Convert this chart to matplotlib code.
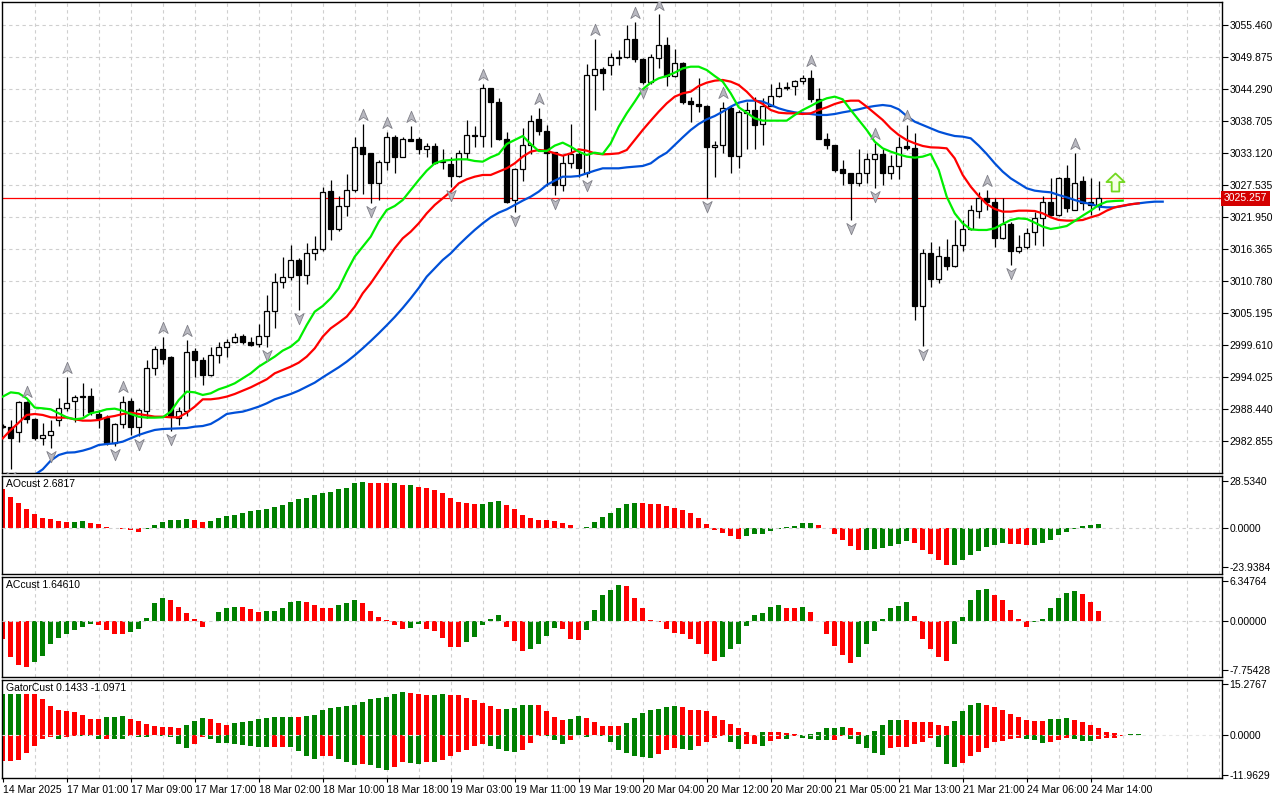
import numpy as np
import matplotlib.pyplot as plt
from matplotlib.path import Path
from matplotlib.transforms import offset_copy, blended_transform_factory

plt.rcParams['font.family'] = ['Liberation Sans Narrow', 'Liberation Sans', 'DejaVu Sans']

# ---- XAUUSD H1 candles ----
opens = [2985.6, 2985.4, 2984.4, 2989.7, 2986.7, 2983.4, 2983.9, 2986.6, 2988.7, 2989.8,
         2990.8, 2990.8, 2987.7, 2986.9, 2982.5, 2985.8, 2989.9, 2985.4, 2988.2, 2995.6,
         2998.9, 2997.6, 2987.0, 2988.2, 2998.6, 2997.0, 2994.4, 2997.9, 2999.3, 3000.1,
         3001.3, 3000.2, 2999.8, 3001.2, 3005.6, 3010.7, 3011.5, 3014.5, 3011.8, 3015.7,
         3016.4, 3026.5, 3019.9, 3024.0, 3026.7, 3034.3, 3033.1, 3027.9, 3031.6, 3036.0,
         3032.5, 3035.7, 3035.6, 3033.9, 3034.4, 3031.6, 3031.3, 3029.2, 3033.1, 3036.3,
         3036.2, 3044.5, 3042.0, 3035.6, 3025.0, 3030.3, 3034.5, 3039.1, 3037.1, 3033.3,
         3027.6, 3031.5, 3033.0, 3029.7, 3046.8, 3047.8, 3048.6, 3049.8, 3049.9, 3053.0,
         3049.5, 3045.5, 3049.7, 3052.1, 3046.6, 3048.9, 3042.3, 3041.8, 3041.4, 3034.2,
         3034.5, 3041.0, 3032.7, 3040.1, 3040.7, 3038.2, 3041.4, 3043.2, 3044.5, 3044.9,
         3045.8, 3046.2, 3042.6, 3035.7, 3034.5, 3030.3, 3029.6, 3027.9, 3029.6, 3032.1,
         3033.0, 3029.6, 3030.9, 3034.4, 3034.0, 3006.4, 3015.7, 3011.1, 3015.0, 3013.5,
         3017.2, 3019.9, 3023.1, 3025.4, 3024.6, 3018.3, 3020.8, 3016.0, 3016.7, 3019.3,
         3021.9, 3024.7, 3022.4, 3028.8, 3023.3, 3028.2, 3024.6, 3024.1]
highs = [2985.8, 2986.5, 2989.9, 2989.9, 2986.9, 2986.0, 2986.6, 2990.4, 2994.1, 2990.9,
         2993.0, 2992.1, 2988.4, 2987.4, 2986.1, 2990.8, 2990.4, 2988.6, 2997.0, 2999.4,
         3001.0, 2997.7, 2988.9, 3000.5, 2999.1, 2997.6, 2999.3, 3000.2, 3000.7, 3001.7,
         3001.6, 3001.1, 3003.4, 3008.4, 3012.2, 3015.1, 3017.1, 3014.8, 3017.4, 3018.7,
         3027.2, 3028.5, 3025.6, 3029.5, 3035.9, 3038.2, 3033.2, 3032.0, 3036.9, 3036.3,
         3036.0, 3037.9, 3036.0, 3034.9, 3034.9, 3033.8, 3032.5, 3033.7, 3038.9, 3037.9,
         3045.2, 3044.6, 3042.7, 3036.9, 3030.5, 3037.6, 3039.8, 3041.0, 3038.1, 3033.4,
         3032.8, 3038.2, 3033.4, 3048.7, 3053.0, 3048.2, 3050.6, 3051.2, 3055.5, 3056.1,
         3049.7, 3050.5, 3057.4, 3053.5, 3051.4, 3049.1, 3043.0, 3046.2, 3041.5, 3035.2,
         3042.1, 3041.3, 3040.7, 3042.1, 3043.0, 3042.7, 3045.3, 3045.6, 3045.6, 3046.0,
         3046.8, 3047.6, 3044.5, 3036.7, 3034.6, 3032.0, 3029.7, 3033.8, 3033.2, 3034.9,
         3033.8, 3032.8, 3036.0, 3038.1, 3036.6, 3016.5, 3017.7, 3016.9, 3018.1, 3021.5,
         3021.4, 3024.1, 3026.4, 3026.7, 3025.4, 3025.4, 3021.2, 3018.9, 3020.0, 3022.9,
         3025.6, 3028.8, 3028.9, 3031.1, 3033.1, 3029.2, 3028.8, 3028.2]
lows = [2985.2, 2978.1, 2982.8, 2986.0, 2983.1, 2982.2, 2981.6, 2985.5, 2988.2, 2986.3,
        2987.2, 2987.4, 2985.1, 2982.2, 2982.0, 2985.1, 2984.0, 2983.7, 2986.9, 2994.4,
        2996.3, 2984.7, 2985.7, 2987.2, 2994.1, 2992.7, 2994.3, 2996.6, 2997.5, 3000.0,
        2999.8, 2999.4, 2999.3, 2999.3, 3002.6, 3009.6, 3011.0, 3005.8, 3010.3, 3014.5,
        3016.1, 3018.0, 3019.5, 3022.2, 3026.4, 3026.1, 3024.5, 3024.9, 3030.2, 3029.7,
        3032.4, 3035.2, 3033.0, 3032.5, 3031.3, 3030.3, 3027.2, 3029.0, 3032.2, 3034.3,
        3034.3, 3034.3, 3035.4, 3024.5, 3022.8, 3028.2, 3033.0, 3036.3, 3027.4, 3025.8,
        3026.6, 3030.5, 3029.0, 3029.0, 3040.7, 3044.1, 3046.8, 3048.5, 3049.7, 3049.1,
        3045.3, 3045.2, 3048.0, 3044.8, 3046.5, 3041.8, 3038.6, 3040.4, 3025.3, 3029.0,
        3033.1, 3029.7, 3030.5, 3033.8, 3033.8, 3034.6, 3041.3, 3043.0, 3044.1, 3043.3,
        3045.3, 3042.1, 3035.6, 3033.8, 3029.9, 3027.6, 3021.5, 3027.4, 3028.0, 3027.0,
        3027.6, 3028.6, 3028.6, 3033.7, 3004.1, 2999.4, 3009.8, 3010.5, 3012.8, 3013.2,
        3016.0, 3019.7, 3021.9, 3023.2, 3016.8, 3018.1, 3013.6, 3015.8, 3016.4, 3017.1,
        3017.0, 3022.1, 3022.1, 3022.8, 3023.2, 3023.2, 3022.4, 3023.2]
closes = [2985.3, 2983.4, 2989.7, 2986.7, 2983.4, 2984.0, 2984.6, 2988.7, 2989.6, 2990.5,
          2990.5, 2988.0, 2986.9, 2982.5, 2985.8, 2989.7, 2985.4, 2988.3, 2995.6, 2998.9,
          2997.3, 2987.2, 2988.2, 2998.4, 2997.0, 2994.4, 2997.9, 2999.3, 3000.1, 3001.0,
          3000.1, 2999.6, 3001.3, 3005.6, 3010.7, 3011.5, 3014.5, 3011.8, 3015.7, 3016.5,
          3026.3, 3019.9, 3023.9, 3026.8, 3034.2, 3033.0, 3027.9, 3031.6, 3036.0, 3032.5,
          3035.7, 3035.3, 3033.8, 3034.4, 3031.5, 3031.7, 3029.2, 3033.1, 3036.3, 3036.1,
          3044.5, 3042.0, 3035.6, 3024.7, 3030.3, 3034.5, 3038.8, 3037.1, 3033.1, 3027.6,
          3031.5, 3033.0, 3030.5, 3046.8, 3047.8, 3047.2, 3049.9, 3049.9, 3053.0, 3049.5,
          3045.5, 3049.9, 3052.1, 3046.6, 3048.9, 3042.1, 3041.8, 3041.3, 3034.2, 3034.6,
          3041.0, 3032.7, 3040.3, 3040.7, 3038.1, 3041.4, 3043.2, 3044.5, 3044.6, 3045.7,
          3046.2, 3042.6, 3035.7, 3034.5, 3030.2, 3029.6, 3027.9, 3029.6, 3032.1, 3033.0,
          3029.6, 3030.9, 3034.3, 3034.0, 3006.4, 3015.7, 3011.1, 3015.2, 3013.5, 3017.2,
          3019.9, 3023.2, 3025.4, 3024.6, 3018.3, 3020.8, 3016.0, 3016.7, 3019.2, 3021.9,
          3024.7, 3022.4, 3028.8, 3023.5, 3028.0, 3024.5, 3024.1, 3025.257]

# ---- Alligator (lips / teeth from bar 0, jaw from bar 4) ----
lips = [2990.65, 2991.40, 2991.23, 2990.35, 2988.73, 2988.61, 2988.44, 2987.74, 2987.04, 2986.69,
        2986.86, 2987.74, 2988.03, 2988.44, 2988.55, 2988.20, 2987.62, 2987.15, 2986.98, 2986.98,
        2987.04, 2988.03, 2990.06, 2991.52, 2991.40, 2990.94, 2991.23, 2991.93, 2992.39, 2992.97,
        2993.85, 2994.72, 2995.88, 2996.75, 2997.63, 2998.68, 2999.37, 3000.54, 3003.15, 3005.48,
        3006.47, 3007.81, 3009.55, 3012.46, 3015.08, 3016.83, 3018.57, 3021.19, 3023.23, 3023.92,
        3024.97, 3026.72, 3028.46, 3030.09, 3031.37, 3031.84, 3031.95, 3032.07, 3032.07, 3031.78,
        3031.66, 3032.42, 3033.00, 3034.75, 3035.44, 3036.14, 3034.75, 3033.52, 3033.52, 3034.46,
        3034.98, 3034.28, 3033.41, 3032.83, 3033.23, 3033.00, 3034.86, 3037.77, 3040.10, 3042.14,
        3044.29, 3045.45, 3046.21, 3046.61, 3047.20, 3047.95, 3048.24, 3048.24, 3047.66, 3046.61,
        3045.63, 3043.59, 3041.15, 3040.21, 3039.23, 3038.82, 3038.82, 3038.82, 3038.82, 3039.81,
        3040.68, 3041.38, 3042.14, 3042.72, 3043.01, 3042.54, 3040.68, 3038.94, 3037.19, 3035.15,
        3033.99, 3033.41, 3032.94, 3032.54, 3032.36, 3032.54, 3033.00, 3030.21, 3025.55, 3022.64,
        3020.90, 3019.85, 3019.74, 3019.74, 3020.03, 3020.78, 3021.48, 3021.77, 3021.66, 3021.02,
        3020.32, 3019.91, 3020.14, 3020.43, 3021.31, 3022.24, 3023.11, 3024.10, 3024.68, 3024.80,
        3024.86]
teeth = [2983.37, 2984.83, 2986.11, 2987.45, 2987.62, 2987.45, 2987.04, 2986.98, 2986.98, 2986.69,
         2986.46, 2986.46, 2986.57, 2987.04, 2987.27, 2987.62, 2987.85, 2987.62, 2987.39, 2987.15,
         2987.15, 2987.04, 2987.04, 2987.85, 2988.90, 2990.18, 2990.18, 2990.35, 2990.65, 2991.11,
         2991.69, 2992.27, 2992.97, 2993.67, 2994.72, 2995.30, 2995.88, 2996.58, 2997.63, 2999.08,
         3001.12, 3002.57, 3003.56, 3004.61, 3006.35, 3008.68, 3010.43, 3012.46, 3014.50, 3016.54,
         3018.28, 3019.44, 3020.90, 3022.64, 3024.10, 3025.26, 3026.43, 3027.88, 3028.58, 3029.04,
         3029.34, 3029.34, 3029.92, 3030.50, 3031.37, 3032.54, 3033.41, 3033.70, 3033.58, 3033.12,
         3032.71, 3033.12, 3033.82, 3033.58, 3033.12, 3032.94, 3033.00, 3033.12, 3033.70, 3035.44,
         3037.19, 3038.82, 3040.39, 3041.84, 3043.01, 3043.59, 3043.88, 3044.87, 3045.45, 3045.80,
         3045.92, 3045.63, 3045.04, 3043.88, 3042.43, 3041.73, 3040.68, 3040.21, 3040.10, 3040.10,
         3039.98, 3040.10, 3040.68, 3041.15, 3041.73, 3042.14, 3042.31, 3042.31, 3041.26, 3040.10,
         3038.94, 3037.48, 3036.32, 3035.44, 3034.86, 3034.40, 3034.16, 3034.11, 3033.99, 3032.24,
         3029.34, 3027.30, 3025.67, 3024.27, 3023.40, 3022.94, 3022.94, 3023.11, 3023.11, 3023.05,
         3022.64, 3021.95, 3021.48, 3021.37, 3021.37, 3021.48, 3021.95, 3022.35, 3023.11, 3023.69,
         3023.98, 3024.22, 3024.39]
jaw_start = 4
jaw = [2977.00, 2977.96, 2979.48, 2980.46, 2980.87, 2980.93, 2981.22, 2981.63, 2982.21, 2982.38,
       2982.50, 2982.79, 2983.37, 2983.96, 2984.42, 2984.83, 2985.00, 2985.06, 2985.12, 2985.17,
       2985.41, 2985.52, 2985.88, 2986.69, 2987.62, 2987.85, 2988.03, 2988.44, 2988.90, 2989.48,
       2990.18, 2990.65, 2991.11, 2991.69, 2992.39, 2993.09, 2994.02, 2994.89, 2995.77, 2996.75,
       2997.86, 2999.08, 3000.36, 3001.70, 3003.10, 3004.55, 3006.12, 3007.81, 3009.61, 3011.59,
       3013.05, 3014.50, 3015.66, 3017.12, 3018.46, 3019.74, 3020.90, 3021.95, 3022.76, 3023.34,
       3024.10, 3024.86, 3025.55, 3026.43, 3027.59, 3028.35, 3029.04, 3029.04, 3029.16, 3029.63,
       3030.09, 3030.50, 3030.50, 3030.50, 3030.67, 3030.79, 3030.91, 3031.37, 3032.42, 3033.23,
       3034.57, 3035.91, 3037.19, 3038.24, 3039.05, 3039.63, 3040.39, 3041.26, 3041.96, 3042.31,
       3042.31, 3042.14, 3041.55, 3040.97, 3040.56, 3040.27, 3040.10, 3039.98, 3039.81, 3039.81,
       3039.98, 3040.27, 3040.51, 3040.80, 3041.15, 3041.38, 3041.55, 3041.38, 3040.80, 3039.63,
       3038.64, 3038.06, 3037.48, 3036.90, 3036.49, 3036.14, 3036.03, 3035.74, 3034.46, 3033.00,
       3031.37, 3029.92, 3028.75, 3027.88, 3027.01, 3026.60, 3026.43, 3026.31, 3025.84, 3025.44,
       3024.97, 3024.56, 3024.27, 3023.81, 3023.69, 3023.69, 3023.92, 3024.22, 3024.39, 3024.56,
       3024.68, 3024.68]

# ---- fractals and signal ----
fractal_up = [3, 8, 15, 20, 23, 45, 48, 51, 60, 67, 74, 79, 82, 90, 101, 109, 113, 123, 134]
fractal_down = [1, 6, 14, 17, 21, 33, 37, 46, 56, 64, 69, 73, 80, 88, 106, 109, 115, 126]
signal_bar = 139
signal_price = 3028.1
bid_price = 3025.257

# ---- oscillators ----
ao = [23.6, 19.1, 15.4, 11.7, 8.6, 6.2, 5.5, 4.3, 3.7, 3.9,
      4.1, 3.1, 2.5, 0.6, 0.2, -0.4, -1.4, -2.3, -0.6, 1.8,
      3.7, 4.7, 5.1, 5.5, 4.9, 3.9, 4.1, 6.2, 7.6, 8.2,
      9.2, 10.5, 10.7, 11.7, 12.5, 13.7, 16.0, 17.4, 18.5, 19.9,
      21.1, 21.9, 23.6, 24.6, 27.1, 27.7, 27.5, 27.3, 27.1, 27.5,
      26.2, 26.4, 25.2, 24.6, 23.0, 21.1, 18.5, 15.6, 15.4, 14.4,
      14.8, 16.0, 16.2, 14.1, 11.3, 8.2, 6.2, 4.9, 4.7, 4.5,
      3.1, 1.8, -0.2, 0.8, 3.7, 6.8, 9.2, 12.3, 14.8, 15.4,
      15.2, 14.8, 14.6, 13.5, 11.9, 10.7, 9.2, 6.2, 2.5, -1.0,
      -3.1, -4.7, -6.8, -4.7, -3.9, -3.7, -1.6, -0.4, 0.4, 1.0,
      2.9, 3.1, 2.1, -0.1, -3.7, -7.2, -10.9, -13.3, -13.1, -12.7,
      -12.3, -10.7, -9.8, -7.8, -8.8, -13.3, -16.0, -19.1, -22.6, -22.3,
      -19.1, -16.4, -13.7, -11.3, -10.3, -9.2, -9.4, -9.6, -10.3, -10.0,
      -8.8, -7.2, -4.5, -2.5, -0.6, 1.4, 2.0, 2.68]
ac = [-2.9, -5.7, -7.0, -7.3, -6.5, -5.5, -3.6, -2.7, -2.0, -1.5,
      -0.9, -0.4, -0.7, -1.5, -2.0, -2.1, -1.7, -1.2, 0.5, 2.8,
      3.7, 3.3, 2.3, 1.2, 0.3, -0.9, 0.05, 1.5, 2.0, 2.3,
      2.2, 1.9, 1.5, 1.55, 1.6, 2.1, 3.1, 3.15, 3.1, 2.6,
      2.1, 2.0, 2.6, 2.8, 3.4, 2.9, 1.6, 0.7, 0.2, -0.7,
      -1.3, -1.1, -0.5, -1.3, -1.6, -2.7, -4.1, -4.2, -3.3, -2.5,
      -0.7, 0.4, 1.0, -0.9, -3.2, -4.7, -4.5, -3.7, -2.4, -1.1,
      -1.3, -2.9, -3.0, -1.5, 1.8, 4.1, 5.0, 5.8, 5.5, 3.7,
      2.0, 0.1, -0.2, -1.3, -1.96, -2.1, -2.8, -3.6, -5.2, -6.3,
      -5.7, -4.5, -3.7, -0.8, 1.0, 1.2, 2.3, 2.5, 2.1, 2.05,
      2.3, 1.4, -0.05, -2.1, -4.0, -5.4, -6.7, -5.7, -3.7, -1.6,
      0.3, 2.0, 2.4, 3.1, 0.8, -2.8, -4.5, -5.7, -6.4, -3.6,
      0.7, 3.4, 5.0, 5.1, 4.2, 3.3, 1.7, 0.3, -0.9, -0.2,
      0.4, 2.1, 3.6, 4.5, 4.7, 4.3, 3.1, 1.65]
gator_up = [12.2, 12.3, 12.35, 12.3, 12.25, 10.6, 8.5, 7.5, 7.0, 6.8,
            5.8, 4.8, 4.75, 5.4, 5.45, 5.5, 4.8, 4.1, 3.3, 2.5,
            2.45, 2.4, 2.1, 2.8, 4.0, 5.1, 4.8, 3.6, 3.0, 3.6,
            3.8, 4.1, 4.6, 5.0, 5.2, 5.25, 5.4, 5.2, 5.5, 6.0,
            7.4, 8.1, 8.4, 8.5, 8.8, 9.7, 10.6, 10.9, 11.2, 12.1,
            12.7, 12.6, 12.1, 11.8, 11.9, 12.1, 12.05, 11.8, 11.1, 10.3,
            9.4, 8.5, 7.6, 7.65, 7.9, 8.8, 8.85, 8.8, 7.0, 5.2,
            4.3, 4.6, 5.5, 4.9, 3.8, 2.6, 2.55, 2.5, 3.5, 5.0,
            6.5, 7.4, 7.7, 8.2, 8.5, 8.2, 7.4, 7.35, 7.0, 5.6,
            4.5, 3.3, 2.0, 0.8, 0.1, 1.0, 0.95, 0.8, 0.6, 0.4,
            0.1, 0.4, 1.0, 2.0, 2.05, 2.3, 2.1, 1.0, 0.1, 1.3,
            2.8, 4.3, 4.35, 4.3, 3.8, 3.75, 3.7, 3.0, 2.6, 4.0,
            7.0, 8.8, 9.6, 8.8, 8.2, 7.5, 6.3, 5.3, 4.3, 4.2,
            4.0, 4.6, 4.7, 4.9, 4.3, 3.8, 2.8, 2.0, 1.0, 0.6,
            0.1, 0.1433, 0.15]
gator_down = [-7.8, -7.7, -7.65, -5.4, -3.4, -1.2, -0.7, -1.2, -0.7, -0.2,
              -0.25, -0.4, -1.2, -1.15, -1.2, -1.25, -0.4, -0.5, -0.7, -0.1,
              -0.2, -0.7, -2.7, -4.0, -2.7, -0.7, -1.2, -2.4, -2.5, -2.7,
              -3.0, -3.2, -3.5, -3.7, -3.65, -3.5, -3.7, -4.8, -6.2, -7.2,
              -6.3, -6.2, -7.1, -8.2, -8.9, -8.6, -8.9, -9.8, -10.4, -9.5,
              -8.0, -8.3, -8.6, -8.0, -8.05, -7.4, -6.2, -5.2, -4.4, -3.2,
              -2.6, -3.4, -4.1, -4.7, -5.0, -4.4, -2.3, -0.2, -0.25, -1.4,
              -2.6, -1.4, -0.1, -0.7, -0.1, -0.4, -2.2, -4.6, -5.5, -6.2,
              -6.6, -7.0, -5.8, -4.4, -4.0, -4.3, -4.4, -3.4, -2.2, -0.8,
              -0.3, -2.0, -4.2, -2.7, -2.65, -3.2, -1.7, -1.2, -1.25, -0.3,
              -0.8, -1.2, -1.4, -1.45, -1.4, -0.4, -1.2, -2.7, -4.0, -5.4,
              -5.9, -4.0, -3.7, -3.5, -2.8, -2.2, -1.0, -3.7, -8.8, -9.7,
              -8.4, -6.4, -5.2, -4.0, -2.2, -1.8, -1.2, -1.0, -1.2, -1.5,
              -2.5, -2.2, -1.4, -0.8, -1.2, -1.8, -1.85, -1.0971, -1.0, -0.8,
              -0.4]

price_ticks = [3055.460, 3049.875, 3044.290, 3038.705, 3033.120, 3027.535, 3021.950,
               3016.365, 3010.780, 3005.195, 2999.610, 2994.025, 2988.440, 2982.855]
time_labels = ["14 Mar 2025", "17 Mar 01:00", "17 Mar 09:00", "17 Mar 17:00", "18 Mar 02:00",
               "18 Mar 10:00", "18 Mar 18:00", "19 Mar 03:00", "19 Mar 11:00", "19 Mar 19:00",
               "20 Mar 04:00", "20 Mar 12:00", "20 Mar 20:00", "21 Mar 05:00", "21 Mar 13:00",
               "21 Mar 21:00", "24 Mar 06:00", "24 Mar 14:00"]
time_label_bars = list(range(0, 8 * len(time_labels), 8))

GREEN = '#008000'
RED = '#ff0000'
GRID = '#cfcfcf'
FS = 7.5

W, H = 1280, 800
fig = plt.figure(figsize=(W / 100, H / 100), dpi=100, facecolor='white')


def rect(top, bottom, left=2, right=1222):
    return [left / W, 1 - bottom / H, (right - left) / W, (bottom - top) / H]


ax = fig.add_axes(rect(2, 473))
ax_ao = fig.add_axes(rect(476, 574), sharex=ax)
ax_ac = fig.add_axes(rect(577, 677), sharex=ax)
ax_gt = fig.add_axes(rect(680, 778), sharex=ax)
axes = [ax, ax_ao, ax_ac, ax_gt]

ax.set_xlim(-0.09, 152.41)
for a in axes:
    for s in a.spines.values():
        s.set_color('black')
        s.set_linewidth(1)
    for k in range(4, 153, 4):
        a.axvline(k, color=GRID, lw=0.8, ls=(0, (3, 3)), zorder=0)
    a.yaxis.tick_right()
    a.tick_params(axis='y', direction='out', length=4, width=0.8, pad=1.5, labelsize=FS)
    if a is not ax_gt:
        a.tick_params(axis='x', bottom=False, labelbottom=False)

# ---- main price panel ----
ax.set_ylim(2977.32, 3059.53)
for p in price_ticks:
    ax.axhline(p, color=GRID, lw=0.8, ls=(0, (3, 3)), zorder=0)
ax.set_yticks(price_ticks)
ax.set_yticklabels([f'{p:.3f}' for p in price_ticks])

o = np.array(opens)
h = np.array(highs)
l = np.array(lows)
c = np.array(closes)
idx = np.arange(len(o))
bull = c >= o
ax.vlines(idx, l, h, color='black', lw=0.9, zorder=3)
lo = np.minimum(o, c)
ht = np.maximum(np.abs(c - o), 0.15)
ax.bar(idx[bull], ht[bull], bottom=lo[bull], width=0.6, facecolor='white',
       edgecolor='black', linewidth=0.9, zorder=4)
ax.bar(idx[~bull], ht[~bull], bottom=lo[~bull], width=0.6, facecolor='black',
       edgecolor='black', linewidth=0.9, zorder=4)

ax.axhline(bid_price, color='#ff0000', lw=0.9, zorder=2)

ax.plot(np.arange(jaw_start, jaw_start + len(jaw)), jaw, color='#0050d8', lw=1.6, zorder=6)
ax.plot(np.arange(len(teeth)), teeth, color='#ff0000', lw=1.6, zorder=6)
ax.plot(np.arange(len(lips)), lips, color='#00ee00', lw=1.6, zorder=6)

up_path = Path([(0, 1), (0.75, -0.8), (0, -0.3), (-0.75, -0.8), (0, 1)],
               [Path.MOVETO, Path.LINETO, Path.LINETO, Path.LINETO, Path.CLOSEPOLY])
down_path = Path([(0, -1), (0.75, 0.8), (0, 0.3), (-0.75, 0.8), (0, -1)],
                 [Path.MOVETO, Path.LINETO, Path.LINETO, Path.LINETO, Path.CLOSEPOLY])
t_up = offset_copy(ax.transData, fig=fig, x=0, y=9, units='dots')
t_dn = offset_copy(ax.transData, fig=fig, x=0, y=-8, units='dots')
ax.plot(fractal_up, h[fractal_up], ls='none', marker=up_path, ms=9, mfc='#b8b8c0',
        mec='#808088', mew=0.6, transform=t_up, zorder=7)
ax.plot(fractal_down, l[fractal_down], ls='none', marker=down_path, ms=9, mfc='#b8b8c0',
        mec='#808088', mew=0.6, transform=t_dn, zorder=7)

arrow_path = Path([(0, 1), (1, 0.05), (0.42, 0.05), (0.42, -1), (-0.42, -1), (-0.42, 0.05),
                   (-1, 0.05), (0, 1)],
                  [Path.MOVETO] + [Path.LINETO] * 6 + [Path.CLOSEPOLY])
ax.plot([signal_bar], [signal_price], ls='none', marker=arrow_path, ms=13, mfc='#f6ffe8',
        mec='#72d820', mew=1.3, zorder=8)

bt = blended_transform_factory(ax.transAxes, ax.transData)
ax.text(1.0 + 2 / 1220, bid_price, f'{bid_price:.3f}', transform=bt, color='white',
        fontsize=FS, va='center', ha='left',
        bbox=dict(boxstyle='square,pad=0.25', fc='#d40000', ec='none'), zorder=10, clip_on=False)


def bar_colors(vals, first, use_abs=False):
    v = np.abs(vals) if use_abs else np.asarray(vals, dtype=float)
    cols = [first]
    for i in range(1, len(v)):
        cols.append(GREEN if v[i] > v[i - 1] else RED)
    return cols


def panel_label(a, text, h_px):
    a.text(4 / 1220, 1 - 8 / h_px, text, transform=a.transAxes, fontsize=FS,
           va='center', ha='left', color='black')


# ---- AO ----
ax_ao.bar(np.arange(len(ao)), ao, width=0.6, color=bar_colors(ao, RED), zorder=2)
ax_ao.axhline(0, color=GRID, lw=0.8, ls=(0, (3, 3)), zorder=3)
ax_ao.set_ylim(-27.9, 31.6)
ax_ao.set_yticks([28.534, 0, -23.9384])
ax_ao.set_yticklabels(['28.5340', '0.0000', '-23.9384'])
panel_label(ax_ao, 'AOcust 2.6817', 98)

# ---- AC ----
ax_ac.bar(np.arange(len(ac)), ac, width=0.6, color=bar_colors(ac, RED), zorder=2)
ax_ac.axhline(0, color=GRID, lw=0.8, ls=(0, (3, 3)), zorder=3)
ax_ac.set_ylim(-8.9, 7.0)
ax_ac.set_yticks([6.34764, 0, -7.75428])
ax_ac.set_yticklabels(['6.34764', '0.00000', '-7.75428'])
panel_label(ax_ac, 'ACcust 1.64610', 100)

# ---- Gator ----
ax_gt.bar(np.arange(len(gator_up)), gator_up, width=0.6,
          color=bar_colors(gator_up, GREEN), zorder=2)
ax_gt.bar(np.arange(len(gator_down)), gator_down, width=0.6,
          color=bar_colors(gator_down, RED, use_abs=True), zorder=2)
ax_gt.axhline(0, color='#e4e4e4', lw=0.8, ls=(0, (3, 3)), zorder=3)
ax_gt.set_ylim(-12.9, 16.4)
ax_gt.set_yticks([15.2767, 0, -11.9629])
ax_gt.set_yticklabels(['15.2767', '0.0000', '-11.9629'])
panel_label(ax_gt, 'GatorCust 0.1433 -1.0971', 98)

ax_gt.set_xticks(time_label_bars)
ax_gt.set_xticklabels(time_labels, ha='left')
ax_gt.tick_params(axis='x', direction='out', length=3, width=0.8, pad=2, labelsize=FS)

fig.savefig('out.png', dpi=100, facecolor='white')
